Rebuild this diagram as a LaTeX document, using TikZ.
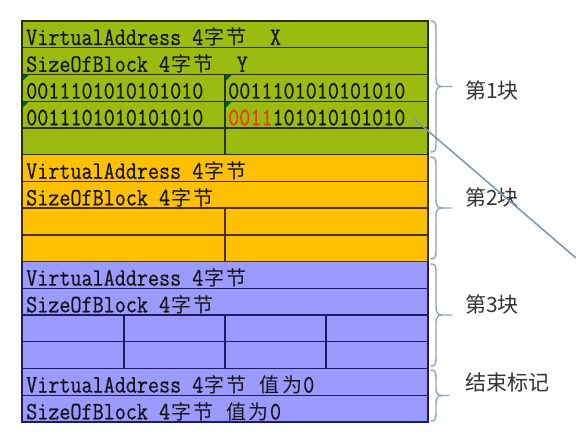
\documentclass[tikz,border=0pt]{standalone}
\usepackage{fontspec}
\newfontfamily\monofont[FakeStretch=0.86,FakeBold=0.6]{Latin Modern Mono}
\newfontfamily\cjk{Noto Sans CJK SC}
\definecolor{gfill}{HTML}{9CBB10}
\definecolor{ofill}{HTML}{FFC000}
\definecolor{bfill}{HTML}{9A9AFF}
\definecolor{gline}{HTML}{2A3300}
\definecolor{oline}{HTML}{4A3000}
\definecolor{bline}{HTML}{1C1C66}
\definecolor{cmark}{HTML}{00602A}
\definecolor{redtxt}{HTML}{F03A10}
\definecolor{txt}{HTML}{151515}
\definecolor{brc}{HTML}{8FA3BA}
\definecolor{diag}{HTML}{7D9BB5}
\definecolor{labc}{HTML}{333333}
\newcommand\zh[1]{\makebox[22.2pt][c]{\cjk\fontsize{20}{20}\selectfont #1}}
\newcommand\ms{\hspace*{11.1pt}}
\newcommand\mybrace[4]{%
  \draw[bracestyle] (#1,#2) .. controls (#1+4,#2) and (#1+5,#2+2) .. (#1+5,#2+8)
    -- (#1+5,{(#2+#3)/2-8}) .. controls (#1+5,{(#2+#3)/2-2}) and (#1+7,{(#2+#3)/2}) .. (#1+11,{(#2+#3)/2})
    -- (#4,{(#2+#3)/2});
  \draw[bracestyle] (#1+11,{(#2+#3)/2}) .. controls (#1+7,{(#2+#3)/2}) and (#1+5,{(#2+#3)/2+2}) .. (#1+5,{(#2+#3)/2+8})
    -- (#1+5,#3-8) .. controls (#1+5,#3-2) and (#1+4,#3) .. (#1,#3);}
\begin{document}
\begin{tikzpicture}[x=1pt,y=-1pt,
  cell/.style={anchor=base west,inner sep=0pt,text=txt,font=\monofont\fontsize{25}{25}\selectfont},
  lab/.style={anchor=west,inner sep=0pt,text=labc,font=\cjk\fontsize{21}{21}\selectfont},
  bracestyle/.style={draw=brc,line width=1.4pt,line cap=round},
  gl/.style={draw=gline,line width=1.3pt},
  ol/.style={draw=oline,line width=1.3pt},
  bl/.style={draw=bline,line width=1.3pt},
  mk/.style={fill=cmark}]
\fill[white] (0,0) rectangle (576,446);
\useasboundingbox (0,0) rectangle (576,446);
% fills
\fill[gfill] (22,21) rectangle (428,154.67);
\fill[ofill] (22,154.67) rectangle (428,261.6);
\fill[bfill] (22,261.6) rectangle (428,422);
% green block grid
\draw[gl] (22,154.67) -- (22,21) -- (428,21) -- (428,154.67);
\foreach \y in {47.73,74.47,101.2,127.9} \draw[gl] (22,\y) -- (428,\y);
\draw[gl] (225,74.47) -- (225,154.67);
% orange block grid
\draw[ol] (22,154.67) -- (22,261.6) (428,154.67) -- (428,261.6);
\foreach \y in {181.4,208.1,234.9} \draw[ol] (22,\y) -- (428,\y);
\draw[ol] (225,208.1) -- (225,261.6);
\draw[gl] (22,154.67) -- (428,154.67);
% blue block grid
\draw[bl] (22,261.6) -- (22,422) -- (428,422) -- (428,261.6);
\foreach \y in {288.3,315,341.8,368.5,395.2} \draw[bl] (22,\y) -- (428,\y);
\foreach \x in {124,225,326} \draw[bl] (\x,315) -- (\x,368.5);
\draw[ol] (22,261.6) -- (428,261.6);
% comment markers
\foreach \x/\y in {22/74.47,225/74.47,22/101.2,225/101.2}
  \fill[mk] (\x+0.6,\y+0.6) -- ++(6,0) -- ++(-6,6) -- cycle;
% texts
\node[cell] (g1) at (26,45) {VirtualAddress 4\zh{字}\zh{节}\ms\ms X};
\node[cell] (g2) at (26,71.8) {SizeOfBlock 4\zh{字}\zh{节}\ms\ms Y};
\node[cell] (g3a) at (26,98.5) {0011101010101010};
\node[cell] (g3b) at (228,98.5) {0011101010101010};
\node[cell] (g4a) at (26,125.2) {0011101010101010};
\node[cell] (g4b) at (228,125.2) {\textcolor{redtxt}{0011}101010101010};
\node[cell] (o1) at (26,178.7) {VirtualAddress 4\zh{字}\zh{节}};
\node[cell] (o2) at (26,205.4) {SizeOfBlock 4\zh{字}\zh{节}};
\node[cell] (b1) at (26,285.6) {VirtualAddress 4\zh{字}\zh{节}};
\node[cell] (b2) at (26,312.3) {SizeOfBlock 4\zh{字}\zh{节}};
\node[cell] (e1) at (26,392.5) {VirtualAddress 4\zh{字}\zh{节}\ms\zh{值}\zh{为}0};
\node[cell] (e2) at (26,419.3) {SizeOfBlock 4\zh{字}\zh{节}\ms\zh{值}\zh{为}0};
% braces
\mybrace{431}{21}{152}{452}
\mybrace{431}{157}{259}{452}
\mybrace{431}{264}{366}{452}
\mybrace{431}{370}{421}{449}
% labels
\node[lab] (l1) at (465,90) {第1块};
\node[lab] (l2) at (465,197) {第2块};
\node[lab] (l3) at (465,304) {第3块};
\node[lab] (l4) at (465,383) {结束标记};
% diagonal line
\coordinate (d1) at (413,118);
\coordinate (d2) at (576,258);
\draw[draw=diag,line width=1.6pt] (d1) -- (d2);
\end{tikzpicture}
\end{document}
